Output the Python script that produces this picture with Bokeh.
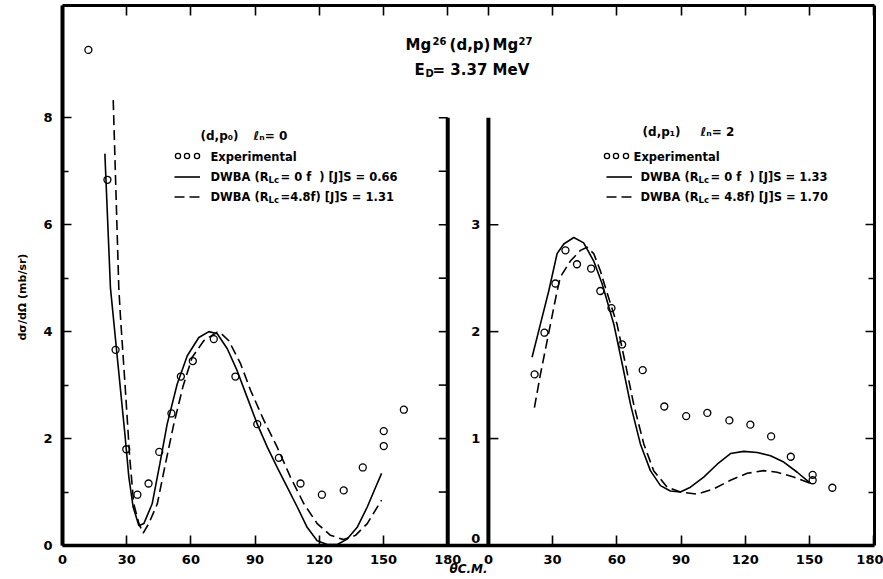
import math
from bokeh.plotting import figure
from bokeh.models import (Range1d, LinearAxis, FixedTicker, Label, Legend, LegendItem,
                          ColumnDataSource, CustomJSTickFormatter, Title)
from bokeh.transform import dodge
from bokeh.core.properties import value
from bokeh.embed import file_html
from bokeh.resources import INLINE

# ---------------- data ----------------
theta_ticks = [0, 30, 60, 90, 120, 150, 180]
left_y_ticks = [0, 2, 4, 6, 8]
left_y_minor_ticks = [1, 3, 5, 7]
left_border_ticks = [1, 2, 3, 4, 5, 6, 7, 8]
right_y_ticks = [0, 1, 2, 3]
right_border_ticks = [1, 2, 3]
right_border_minor_ticks = [0.5, 1.5, 2.5]

# (d,p0) l_n = 0 panel
p0_exp_theta = [12.1, 21.0, 24.8, 29.8, 35.0, 40.2, 45.2, 50.9, 55.3, 60.9, 70.7, 80.8,
                91.0, 101.1, 111.2, 121.2, 131.4, 140.3, 150.1, 150.1, 159.5]
p0_exp_sigma = [9.27, 6.84, 3.66, 1.80, 0.95, 1.16, 1.75, 2.47, 3.16, 3.45, 3.86, 3.16,
                2.27, 1.64, 1.16, 0.95, 1.03, 1.46, 2.14, 1.86, 2.54]
p0_dwba0_theta = [19.8, 22.4, 25.6, 29.0, 31.0, 33.0, 35.7, 38.0, 41.9, 45.5, 48.9, 53.6,
                  58.3, 63.7, 68.4, 72.3, 77.0, 81.6, 86.3, 91.0, 95.7, 100.3, 105.0, 109.7,
                  114.3, 119.0, 123.7, 128.4, 133.0, 137.7, 142.4, 146.3, 149.1]
p0_dwba0_sigma = [7.33, 4.82, 3.52, 2.15, 1.28, 0.72, 0.37, 0.41, 0.78, 1.53, 2.27, 3.02,
                  3.55, 3.89, 4.00, 3.96, 3.68, 3.27, 2.77, 2.27, 1.84, 1.46, 1.09, 0.72,
                  0.34, 0.09, 0.02, 0.02, 0.12, 0.34, 0.72, 1.09, 1.35]
p0_dwba48_theta = [23.7, 26.3, 27.1, 29.4, 31.4, 33.3, 35.7, 37.7, 40.3, 44.3, 48.1, 52.0,
                   56.4, 60.6, 66.0, 72.3, 73.8, 77.7, 83.2, 87.9, 94.1, 100.3, 106.5, 112.8,
                   119.0, 125.2, 131.4, 136.9, 142.4, 149.1]
p0_dwba48_sigma = [8.33, 4.82, 4.27, 2.90, 1.65, 0.78, 0.41, 0.23, 0.41, 0.78, 1.53, 2.27,
                   2.99, 3.52, 3.83, 3.99, 3.98, 3.83, 3.40, 2.90, 2.34, 1.84, 1.28, 0.78,
                   0.41, 0.19, 0.11, 0.19, 0.41, 0.85]

# (d,p1) l_n = 2 panel
p1_exp_theta = [21.6, 26.2, 31.3, 36.0, 41.4, 48.0, 52.3, 57.5, 62.5, 72.1, 82.2, 92.4,
                102.3, 112.6, 122.4, 132.1, 141.3, 151.5, 151.5, 160.7]
p1_exp_sigma = [1.60, 1.99, 2.45, 2.76, 2.63, 2.59, 2.38, 2.22, 1.88, 1.64, 1.30, 1.21,
                1.24, 1.17, 1.13, 1.02, 0.83, 0.66, 0.61, 0.54]
p1_dwba0_theta = [20.4, 24.3, 28.2, 32.1, 35.2, 39.9, 44.5, 49.2, 53.1, 58.6, 62.5, 66.4,
                  71.0, 75.7, 80.4, 85.0, 89.7, 94.4, 100.6, 106.9, 113.1, 119.3, 125.6,
                  131.8, 138.0, 144.3, 150.5]
p1_dwba0_sigma = [1.76, 2.07, 2.38, 2.73, 2.82, 2.88, 2.83, 2.66, 2.45, 2.07, 1.70, 1.32,
                  0.95, 0.70, 0.56, 0.51, 0.50, 0.545, 0.64, 0.76, 0.86, 0.88, 0.87,
                  0.84, 0.78, 0.685, 0.58]
p1_dwba48_theta = [21.5, 24.3, 29.0, 32.1, 33.6, 38.3, 43.0, 46.1, 49.2, 52.3, 54.7, 60.1,
                   64.0, 67.9, 72.6, 77.2, 83.5, 89.7, 97.5, 105.3, 113.1, 120.9, 128.6,
                   134.9, 142.6, 150.5]
p1_dwba48_sigma = [1.29, 1.60, 2.07, 2.38, 2.51, 2.66, 2.76, 2.79, 2.73, 2.57, 2.41, 2.07,
                   1.70, 1.32, 0.95, 0.70, 0.545, 0.50, 0.48, 0.53, 0.61, 0.675, 0.70,
                   0.685, 0.64, 0.58]

# ---------------- layout constants ----------------
FONT = "DejaVu Sans"
K_X = 2.14            # px per degree
FRAME_L = 62          # canvas px of frame left
FRAME_T = 5
FRAME_B = 545
YL_END = 10.1
YR_END = YL_END / 2
K_YL = (FRAME_B - FRAME_T) / YL_END
RIGHT_OFFSET = 199    # where the right panel's 0 deg sits, in left-panel degrees
X_END = 379.4
BASELINE_FIX = 4      # px: label anchor correction


def gx(px):
    return (px - FRAME_L) / K_X


def gy(py):
    return (FRAME_B - py) / K_YL


p = figure(width=883, height=579, output_backend="svg", toolbar_location=None,
           x_range=Range1d(0, X_END), y_range=Range1d(0, YL_END),
           x_axis_location=None, y_axis_location=None,
           min_border_left=62, min_border_right=9, min_border_top=5, min_border_bottom=34)
p.extra_y_ranges = {"yr": Range1d(0, YR_END)}
p.grid.visible = False
p.outline_line_color = None
p.background_fill_color = "white"
p.border_fill_color = "white"

blank = CustomJSTickFormatter(code="return '';")


def style_axis(ax, lw):
    ax.axis_line_width = lw
    ax.axis_line_color = "black"
    ax.major_tick_line_width = 1.6
    ax.minor_tick_line_width = 1.6
    ax.major_tick_out = 0
    ax.minor_tick_out = 0
    ax.major_label_text_font = FONT
    ax.major_label_text_font_style = "bold"
    ax.major_label_text_color = "black"
    ax.major_label_text_font_size = "13px"


ax_l = LinearAxis(ticker=FixedTicker(ticks=left_y_ticks, minor_ticks=left_y_minor_ticks))
style_axis(ax_l, 4)
ax_l.major_tick_in = 9
ax_l.minor_tick_in = 6
ax_l.major_label_standoff = 10
p.add_layout(ax_l, "left")
p.add_layout(Title(text="dσ/dΩ (mb/sr)", align="left", offset=205, standoff=23,
                   text_font=FONT, text_font_style="bold", text_font_size="11px",
                   text_color="black"), "left")

x_tick_pos = theta_ticks + [RIGHT_OFFSET + t for t in theta_ticks]
fmt = CustomJSTickFormatter(args=dict(off=RIGHT_OFFSET),
                            code="return (tick >= off ? tick - off : tick).toFixed(0);")
ax_b = LinearAxis(ticker=FixedTicker(ticks=x_tick_pos, minor_ticks=[]), formatter=fmt)
style_axis(ax_b, 3.5)
ax_b.major_tick_in = 10
ax_b.major_label_standoff = 9
ax_b.axis_label = "θC.M."
ax_b.axis_label_standoff = -5
ax_b.axis_label_text_font = FONT
ax_b.axis_label_text_font_style = "bold italic"
ax_b.axis_label_text_font_size = "12px"
ax_b.axis_label_text_color = "black"
p.add_layout(ax_b, "below")

ax_t = LinearAxis(ticker=FixedTicker(ticks=x_tick_pos, minor_ticks=[]), formatter=blank)
style_axis(ax_t, 3)
ax_t.major_tick_in = 10
ax_t.major_label_standoff = 0
p.add_layout(ax_t, "above")

ax_r = LinearAxis(y_range_name="yr", formatter=blank,
                  ticker=FixedTicker(ticks=right_border_ticks, minor_ticks=right_border_minor_ticks))
style_axis(ax_r, 3)
ax_r.major_tick_in = 9
ax_r.minor_tick_in = 6
ax_r.major_label_standoff = 0
p.add_layout(ax_r, "right")

# inner vertical axes: right border of the left panel, y axis of the right panel
p.segment(x0=[max(theta_ticks), RIGHT_OFFSET], y0=[0, 0],
          x1=[max(theta_ticks), RIGHT_OFFSET], y1=[max(left_border_ticks)] * 2,
          line_width=4, line_color="black")
lb_src = ColumnDataSource(dict(y=left_border_ticks))
p.segment(x0=max(theta_ticks) - 9 / K_X, x1=max(theta_ticks), y0="y", y1="y",
          source=lb_src, line_width=1.6, line_color="black")
rb_src = ColumnDataSource(dict(y=right_border_ticks))
p.segment(x0=RIGHT_OFFSET, x1=RIGHT_OFFSET + 10 / K_X, y0="y", y1="y",
          source=rb_src, y_range_name="yr", line_width=1.6, line_color="black")
rl_src = ColumnDataSource(dict(y=right_y_ticks, text=[str(v) for v in right_y_ticks],
                               dy=[-7, 0, 0, 0]))
p.text(x=RIGHT_OFFSET, y="y", text="text", source=rl_src, y_range_name="yr",
       x_offset=-8, y_offset="dy", text_align="right", text_baseline="middle",
       text_font=value(FONT), text_font_style="bold", text_font_size="13px",
       text_color="black")

# ---------------- data glyphs ----------------
LW = 1.6
DASH = "10 5"

r0_s = p.line(p0_dwba0_theta, p0_dwba0_sigma, line_width=LW, line_color="black")
r0_d = p.line(p0_dwba48_theta, p0_dwba48_sigma, line_width=LW, line_color="black",
              line_dash=DASH)
r0_e = p.scatter(p0_exp_theta, p0_exp_sigma, marker="circle", size=7, fill_color=None,
                 line_color="black", line_width=1.3)

s1s = ColumnDataSource(dict(x=p1_dwba0_theta, y=p1_dwba0_sigma))
s1d = ColumnDataSource(dict(x=p1_dwba48_theta, y=p1_dwba48_sigma))
s1e = ColumnDataSource(dict(x=p1_exp_theta, y=p1_exp_sigma))
r1_s = p.line(x=dodge("x", RIGHT_OFFSET), y="y", source=s1s, y_range_name="yr",
              line_width=LW, line_color="black")
r1_d = p.line(x=dodge("x", RIGHT_OFFSET), y="y", source=s1d, y_range_name="yr",
              line_width=LW, line_color="black", line_dash=DASH)
r1_e = p.scatter(x=dodge("x", RIGHT_OFFSET), y="y", source=s1e, y_range_name="yr",
                 marker="circle", size=7, fill_color=None, line_color="black", line_width=1.3)


# ---------------- legends (symbols) ----------------
def make_legend(renderers, vx, vy, gw, gh):
    leg = Legend(items=[LegendItem(label=value(" "), renderers=[r]) for r in renderers],
                 location=(vx, vy), orientation="vertical",
                 padding=0, spacing=3, glyph_width=gw, glyph_height=gh,
                 label_height=gh, label_width=0, label_standoff=0,
                 label_text_font_size="1px", border_line_color=None,
                 background_fill_alpha=0)
    p.add_layout(leg)


# line samples (rows centred at y = 176 and 196)
make_legend([r0_s, r0_d], 174 - FRAME_L, FRAME_B - 204.5, 26, 17)
make_legend([r1_s, r1_d], 606 - FRAME_L, FRAME_B - 204.5, 26, 17)
# "o o o" sample of the experimental points (three symbols)
for cx in (177, 186.5, 196):
    make_legend([r0_e], cx - 6.5 - FRAME_L, FRAME_B - 162, 13, 13)
for cx in (606, 615.5, 625):
    make_legend([r1_e], cx - 6.5 - FRAME_L, FRAME_B - 162, 13, 13)


# ---------------- texts ----------------
def add_text(px, py, text, size, style="bold", align="left"):
    p.add_layout(Label(x=gx(px), y=gy(py - BASELINE_FIX), text=text, text_font=FONT,
                       text_font_size=f"{size}px", text_font_style=style,
                       text_align=align, text_baseline="alphabetic",
                       text_color="black"))


# title (baseline positions)
add_text(405, 48, "Mg", 15)
add_text(432, 44, "26", 10)
add_text(449, 48, "(d,p)", 15)
add_text(492, 48, "Mg", 15)
add_text(518, 44, "27", 10)
add_text(414, 73, "E", 15)
add_text(425, 77, "D", 10)
add_text(432, 73, "= 3.37 MeV", 15)

LS = 11.5
SUB = 8.5
add_text(200, 139, "(d,p₀)", 12)
add_text(253, 139, "ℓₙ= 0", 12)
add_text(210, 160, "Experimental", LS)
add_text(210, 180, "DWBA (R", LS)
add_text(268, 183, "Lc", SUB)
add_text(280, 180, "= 0 f\u00a0\u00a0) [J]S = 0.66", LS)
add_text(210, 200, "DWBA (R", LS)
add_text(268, 203, "Lc", SUB)
add_text(280, 200, "=4.8f) [J]S = 1.31", LS)

add_text(642, 135, "(d,p₁)", 12)
add_text(700, 135, "ℓₙ= 2", 12)
add_text(633, 160, "Experimental", LS)
add_text(640, 180, "DWBA (R", LS)
add_text(698, 183, "Lc", SUB)
add_text(710, 180, "= 0 f\u00a0\u00a0) [J]S = 1.33", LS)
add_text(640, 200, "DWBA (R", LS)
add_text(698, 203, "Lc", SUB)
add_text(710, 200, "= 4.8f) [J]S = 1.70", LS)

open("out.html", "w").write(file_html(p, INLINE))
